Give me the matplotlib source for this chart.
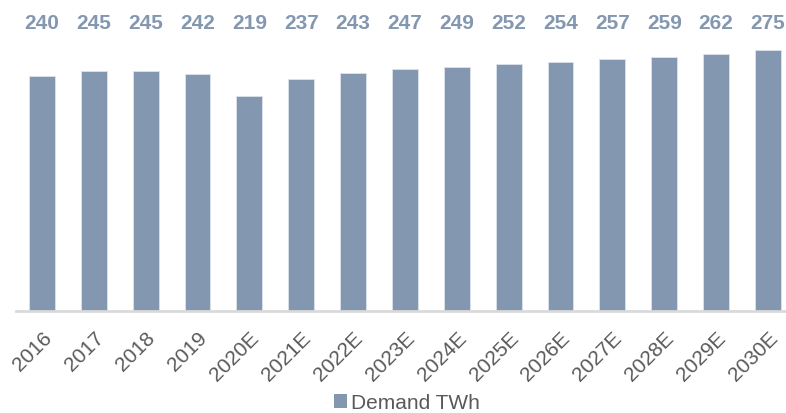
import matplotlib
matplotlib.use("Agg")
import matplotlib.pyplot as plt
from matplotlib.patches import Patch

plt.rcParams['font.family'] = ['Liberation Sans', 'DejaVu Sans']

years = ["2016", "2017", "2018", "2019", "2020E", "2021E", "2022E", "2023E",
         "2024E", "2025E", "2026E", "2027E", "2028E", "2029E", "2030E"]
# bar heights as drawn in the reference
demand = [240, 245, 245, 242, 219, 237, 243, 247, 249, 252, 254, 257, 259, 262, 266]
# data labels as printed in the reference
labels = ["240", "245", "245", "242", "219", "237", "243", "247", "249", "252",
          "254", "257", "259", "262", "275"]

bar_color = "#8497B0"
label_color = "#8497B0"
tick_color = "#595959"

W, H = 786, 414
fig = plt.figure(figsize=(W / 100, H / 100), dpi=100)
ax_left = 16 / W
ax_bottom = (H - 312) / H
ax = fig.add_axes([ax_left, ax_bottom, 15 * 51.86 / W, 312 / H])

x = list(range(len(years)))
ax.bar(x, demand, width=0.5, color=bar_color, edgecolor="#DCE3EC", linewidth=0.6, zorder=2)
ax.set_xlim(-0.5, len(years) - 0.5)
ax.set_ylim(0, 318.4)

for xi, lab in zip(x, labels):
    ax.text(xi, 294, lab, ha="center", va="center", fontsize=15, fontweight="bold",
            color=label_color)

for s in ["top", "right", "left"]:
    ax.spines[s].set_visible(False)
ax.spines["bottom"].set_color("#D9D9D9")
ax.spines["bottom"].set_linewidth(2)
ax.set_yticks([])
ax.set_xticks(x)
ax.set_xticklabels(years, rotation=45, ha="right", rotation_mode="anchor",
                   fontsize=15, color=tick_color)
ax.tick_params(axis="x", length=0, pad=12)

handle = Patch(facecolor=bar_color, edgecolor="none")
fig.legend([handle], ["Demand TWh"], loc="center", bbox_to_anchor=(407 / W, 1 - 404 / H),
           frameon=False, fontsize=15, handlelength=0.65, handleheight=0.65,
           handletextpad=0.2, labelcolor=tick_color)

fig.savefig("out.png", dpi=100)
